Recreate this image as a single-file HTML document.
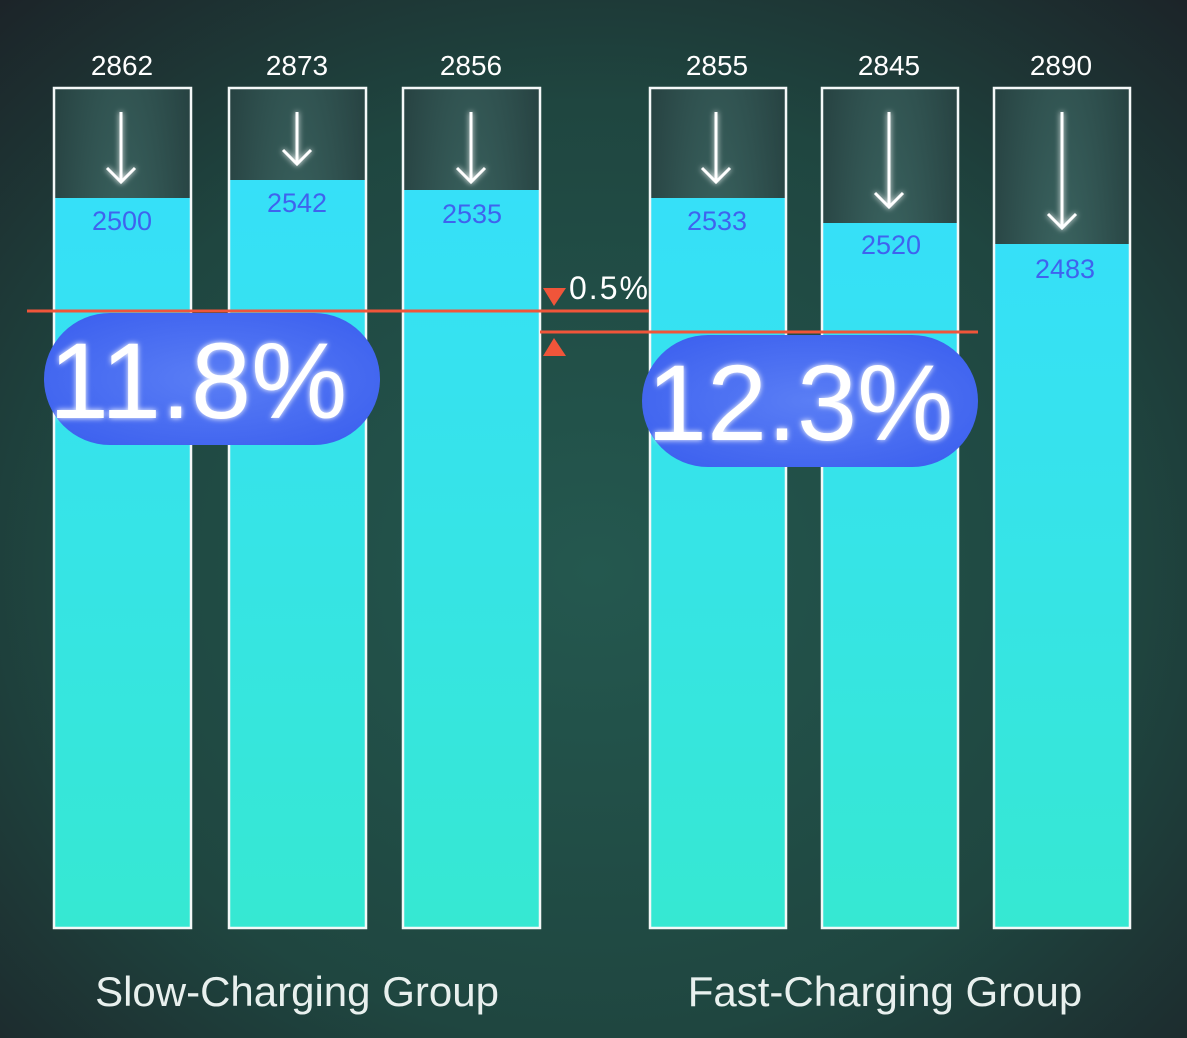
<!DOCTYPE html>
<html><head><meta charset="utf-8"><style>
html,body{margin:0;padding:0;width:1187px;height:1038px;overflow:hidden;background:#1d2228}
svg{display:block}
text{font-family:"Liberation Sans",sans-serif}
</style></head><body>
<svg width="1187" height="1038" viewBox="0 0 1187 1038">
<defs>
<radialGradient id="bg" cx="0.5" cy="0.55" r="0.75">
<stop offset="0" stop-color="#24584f"/><stop offset="0.6" stop-color="#1f4640"/><stop offset="1" stop-color="#1c2328"/>
</radialGradient>
<linearGradient id="bar" x1="0" y1="0" x2="0" y2="1">
<stop offset="0" stop-color="#36e0f8"/><stop offset="1" stop-color="#36e8d2"/>
</linearGradient>
<radialGradient id="top" cx="0.5" cy="0.3" r="0.7">
<stop offset="0" stop-color="#3d6864"/><stop offset="1" stop-color="#223a3a"/>
</radialGradient>
<radialGradient id="pill" cx="0.5" cy="0.5" r="0.6">
<stop offset="0" stop-color="#5a7ef5"/><stop offset="1" stop-color="#3e62ef"/>
</radialGradient>
<filter id="glow" x="-30%" y="-30%" width="160%" height="160%"><feGaussianBlur stdDeviation="3" result="b"/><feMerge><feMergeNode in="b"/><feMergeNode in="SourceGraphic"/></feMerge></filter>
</defs>
<rect width="1187" height="1038" fill="url(#bg)"/>
<g font-size="28" fill="#fff" text-anchor="middle">
<text x="122" y="75">2862</text><text x="297" y="75">2873</text><text x="471" y="75">2856</text>
<text x="717" y="75">2855</text><text x="889" y="75">2845</text><text x="1061" y="75">2890</text>
</g>
<g id="bars">
<rect x="54" y="88" width="137" height="840" fill="url(#top)"/><rect x="54" y="198" width="137" height="730" fill="url(#bar)"/>
<rect x="229" y="88" width="137" height="840" fill="url(#top)"/><rect x="229" y="180" width="137" height="748" fill="url(#bar)"/>
<rect x="403" y="88" width="137" height="840" fill="url(#top)"/><rect x="403" y="190" width="137" height="738" fill="url(#bar)"/>
<rect x="650" y="88" width="136" height="840" fill="url(#top)"/><rect x="650" y="198" width="136" height="730" fill="url(#bar)"/>
<rect x="822" y="88" width="136" height="840" fill="url(#top)"/><rect x="822" y="223" width="136" height="705" fill="url(#bar)"/>
<rect x="994" y="88" width="136" height="840" fill="url(#top)"/><rect x="994" y="244" width="136" height="684" fill="url(#bar)"/>
</g>
<g fill="none" stroke="#f4f8f8" stroke-width="2.5">
<rect x="54" y="88" width="137" height="840"/><rect x="229" y="88" width="137" height="840"/><rect x="403" y="88" width="137" height="840"/>
<rect x="650" y="88" width="136" height="840"/><rect x="822" y="88" width="136" height="840"/><rect x="994" y="88" width="136" height="840"/>
</g>
<g fill="none" stroke="#fff" stroke-width="3" filter="url(#glow)">
<path d="M121 112V182M107 168L121 182L135 168"/>
<path d="M297 112V164M283 150L297 164L311 150"/>
<path d="M471 112V182M457 168L471 182L485 168"/>
<path d="M716 112V182M702 168L716 182L730 168"/>
<path d="M889 112V207M875 193L889 207L903 193"/>
<path d="M1062 112V228M1048 214L1062 228L1076 214"/>
</g>
<g font-size="27" fill="#3f63ee" text-anchor="middle">
<text x="122" y="230">2500</text><text x="297" y="212">2542</text><text x="472" y="223">2535</text>
<text x="717" y="230">2533</text><text x="891" y="254">2520</text><text x="1065" y="278">2483</text>
</g>
<line x1="27" y1="311" x2="649" y2="311" stroke="#f0553a" stroke-width="3"/>
<line x1="540" y1="332" x2="978" y2="332" stroke="#f0553a" stroke-width="3"/>
<path d="M543 288H566L554 306Z" fill="#f0553a"/>
<path d="M543 356H566L554 338Z" fill="#f0553a"/>
<text x="569" y="299" font-size="32" fill="#fff" letter-spacing="2">0.5%</text>
<rect x="44" y="313" width="336" height="132" rx="66" fill="url(#pill)"/>
<rect x="642" y="335" width="336" height="132" rx="66" fill="url(#pill)"/>
<g font-size="108" fill="#fff" text-anchor="middle" filter="url(#glow)">
<text x="198" y="418">11.8%</text>
<text x="800" y="440">12.3%</text>
</g>
<g font-size="42" fill="#e8f0ee" text-anchor="middle">
<text x="297" y="1006">Slow-Charging Group</text>
<text x="885" y="1006">Fast-Charging Group</text>
</g>
</svg>
</body></html>
